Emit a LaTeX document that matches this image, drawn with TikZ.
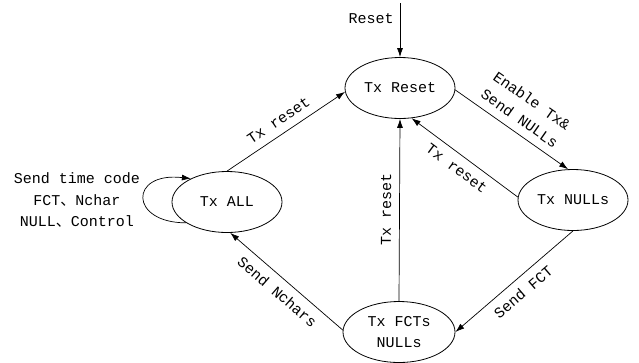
\documentclass[tikz,border=0pt]{standalone}
\usepackage{fontspec}
\setmonofont{Liberation Mono}
\newfontfamily\cjk{Noto Sans CJK SC}
\usetikzlibrary{shapes.geometric, arrows.meta, positioning}

\begin{document}
\begin{tikzpicture}[x=1pt, y=-1pt,
  every node/.style={font=\ttfamily\fontsize{15}{21.5}\selectfont},
  state/.style={draw, ellipse, line width=0.8pt, minimum width=110pt, minimum height=61pt, inner sep=0pt, align=center},
  trans/.style={line width=0.7pt, -{Latex[length=9pt, width=6pt]}},
  lbl/.style={midway, sloped, inner sep=8pt}]
  \useasboundingbox[fill=white] (0,0) rectangle (639,362);

  % States
  \node[state] (txreset) at (400,88) {Tx Reset};
  \node[state] (txnulls) at (573,200) {Tx NULLs};
  \node[state] (txall) at (227,202) {Tx ALL};
  \node[state, minimum width=112pt] (txfcts) at (399,332) {Tx FCTs\\NULLs};

  % Reset input
  \coordinate (rst) at (400,3);
  \draw[trans] (rst) -- node[pos=0.28, left, inner sep=6pt] {Reset} (txreset.north);

  % Transitions
  \draw[trans] (txall.north) -- node[lbl, above] {Tx reset} (txreset.184);
  \draw[trans] (txreset.-2) -- node[lbl, above, align=center] {Enable Tx\&\\Send NULLs} (txnulls.99);
  \draw[trans] (txnulls.177) -- node[lbl, below] {Tx reset} (txreset.-69);
  \draw[trans] (txfcts.north) -- node[lbl, above] {Tx reset} (txreset.south);
  \draw[trans] (txnulls.south) -- node[lbl, below] {Send FCT} (txfcts.east);
  \draw[trans] (txfcts.178) -- node[lbl, below] {Send Nchars} (txall.-84);

  % Self loop on Tx ALL
  \draw[trans] (txall.207) .. controls +(-57,0) and +(-62,-7) .. (txall.147);
  \node[align=center] (loopnote) at (77,200) {Send time code\\FCT{\cjk 、}Nchar\\NULL{\cjk 、}Control};
\end{tikzpicture}
\end{document}
